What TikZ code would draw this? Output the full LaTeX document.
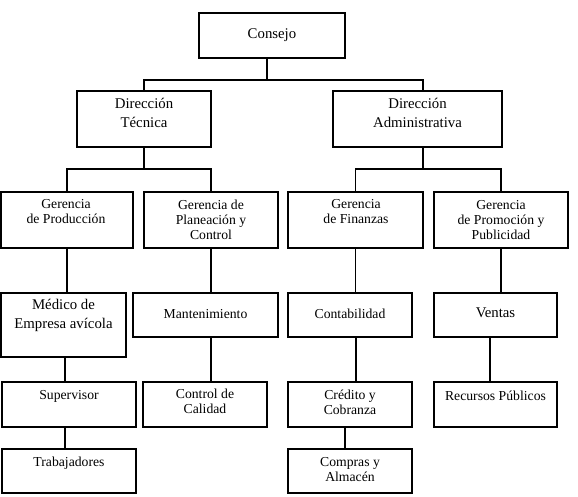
\documentclass[tikz,border=0pt]{standalone}
\usepackage{fontspec}
\setmainfont{Liberation Serif}
\usepackage{tikz}
\usetikzlibrary{positioning,calc}
\newcommand{\txtnormal}{\fontsize{13.7}{15}\selectfont}
\newcommand{\txtgrande}{\fontsize{14.8}{19}\selectfont}

\begin{document}
\begin{tikzpicture}[
    x=1pt, y=-1pt,
    caja/.style={draw, line width=1.2pt, inner sep=0pt},
    txt/.style={align=center, inner sep=0pt, font=\txtnormal},
    txtg/.style={align=center, inner sep=0pt, font=\txtgrande},
    linea/.style={line width=1.2pt}
]
\useasboundingbox (0,0) rectangle (578,496);

% Nivel 1
\node[caja, minimum width=146pt, minimum height=45pt] (consejo) at (272,35.5) {};
\node[txtg] (consejo-t) at (272,35) {Consejo};

% Direcciones
\node[caja, minimum width=134pt, minimum height=56pt] (dt) at (144,119) {};
\node[txtg] (dt-t) at (144,113) {Dirección\\Técnica};
\node[caja, minimum width=169pt, minimum height=56pt] (da) at (417.5,119) {};
\node[txtg] (da-t) at (417.5,113) {Dirección\\Administrativa};

% Gerencias
\node[caja, minimum width=132pt, minimum height=56pt] (gp) at (67,220) {};
\node[txt] (gp-t) at (66,212) {Gerencia\\de Producción};
\node[caja, minimum width=134pt, minimum height=56pt] (gpc) at (211,220) {};
\node[txt] (gpc-t) at (211,220) {Gerencia de\\Planeación y\\Control};
\node[caja, minimum width=135pt, minimum height=56pt] (gf) at (355.5,220) {};
\node[txt] (gf-t) at (356,212) {Gerencia\\de Finanzas};
\node[caja, minimum width=134pt, minimum height=56pt] (gpp) at (501,220) {};
\node[txt] (gpp-t) at (501,220) {Gerencia\\de Promoción y\\Publicidad};

% Departamentos
\node[caja, minimum width=125pt, minimum height=64pt] (medico) at (63.5,325) {};
\node[txtg] (medico-t) at (63.5,315) {Médico de\\Empresa avícola};
\node[caja, minimum width=145pt, minimum height=44pt] (mant) at (205.5,315) {};
\node[txt] (mant-t) at (205.5,314) {Mantenimiento};
\node[caja, minimum width=124pt, minimum height=44pt] (cont) at (350,315) {};
\node[txt] (cont-t) at (350,314) {Contabilidad};
\node[caja, minimum width=123pt, minimum height=44pt] (ventas) at (495.5,315) {};
\node[txtg] (ventas-t) at (495.5,313) {Ventas};

\node[caja, minimum width=134pt, minimum height=45pt] (sup) at (69,404.5) {};
\node[txt] (sup-t) at (69,396) {Supervisor};
\node[caja, minimum width=124pt, minimum height=45pt] (cal) at (205,404.5) {};
\node[txt] (cal-t) at (205,401.5) {Control de\\Calidad};
\node[caja, minimum width=124pt, minimum height=45pt] (cred) at (350,404.5) {};
\node[txt] (cred-t) at (350,402.5) {Crédito y\\Cobranza};
\node[caja, minimum width=123pt, minimum height=45pt] (recursos) at (495.5,404.5) {};
\node[txt] (recursos-t) at (495.5,396) {Recursos Públicos};

\node[caja, minimum width=134pt, minimum height=44pt] (trab) at (69,471) {};
\node[txt] (trab-t) at (69,463) {Trabajadores};
\node[caja, minimum width=124pt, minimum height=44pt] (compras) at (350,471) {};
\node[txt] (compras-t) at (350,469.5) {Compras y\\Almacén};

% Conexiones
\coordinate (b1) at (267,80);
\coordinate (b2) at (143,169);
\coordinate (b3) at (423,169);
\draw[linea] (b1 |- consejo.south) -- (b1);
\draw[linea] (dt.north) |- (b1) -| ([xshift=5.5pt]da.north);
\draw[linea] (dt.south) -- (dt.south |- b2);
\draw[linea] (gp.north) |- (b2) -| (gpc.north);
\draw[linea] ([xshift=5.5pt]da.south) -- (b3);
\draw[linea] (gf.north) |- (b3) -| (gpp.north);

\draw[linea] (gp.south) -- (gp.south |- medico.north);
\draw[linea] (gpc.south) -- (gpc.south |- mant.north);
\draw[linea] (gf.south) -- (gf.south |- cont.north);
\draw[linea] (gpp.south) -- (gpp.south |- ventas.north);

\draw[linea] ([xshift=-4pt]sup.north) -- ([xshift=-4pt]sup.north |- medico.south);
\draw[linea] ([xshift=6pt]cal.north) -- ([xshift=6pt]cal.north |- mant.south);
\draw[linea] ([xshift=6pt]cred.north) -- ([xshift=6pt]cred.north |- cont.south);
\draw[linea] ([xshift=-5.5pt]recursos.north) -- ([xshift=-5.5pt]recursos.north |- ventas.south);
\draw[linea] ([xshift=-4pt]trab.north) -- ([xshift=-4pt]trab.north |- sup.south);
\draw[linea] ([xshift=-5pt]compras.north) -- ([xshift=-5pt]compras.north |- cred.south);

\end{tikzpicture}
\end{document}
